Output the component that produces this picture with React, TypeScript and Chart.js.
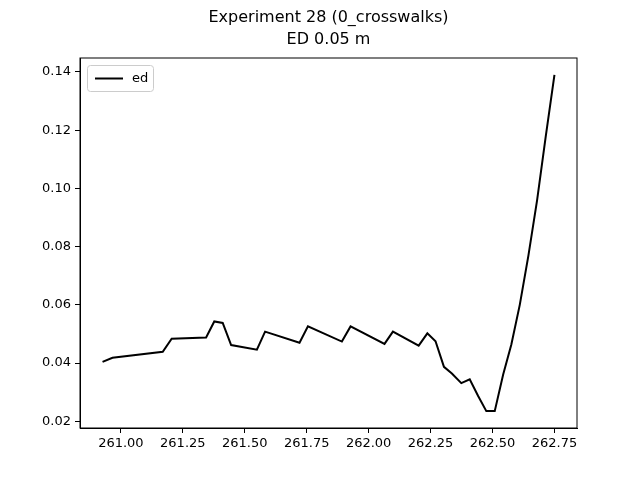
import React, { useEffect, useRef } from 'react'
import { Chart, registerables } from 'chart.js'

Chart.register(...registerables)

const xs = [
	260.926, 260.966, 261.169, 261.205, 261.344, 261.377, 261.411, 261.445, 261.549, 261.582,
	261.721, 261.755, 261.892, 261.927, 262.064, 262.098, 262.202, 262.237, 262.27, 262.304,
	262.336, 262.374, 262.408, 262.442, 262.475, 262.509, 262.543, 262.576, 262.61, 262.645,
	262.68, 262.715, 262.75,
]
const ed = [
	0.0404, 0.0418, 0.0439, 0.0484, 0.0488, 0.0543, 0.0538, 0.0462, 0.0446, 0.0508,
	0.047, 0.0526, 0.0474, 0.0526, 0.0466, 0.0508, 0.046, 0.0502, 0.0475, 0.0387,
	0.0364, 0.0331, 0.0344, 0.0287, 0.0235, 0.0235, 0.0361, 0.0464, 0.06, 0.077,
	0.096, 0.118, 0.139,
]
const xTicks = [261.0, 261.25, 261.5, 261.75, 262.0, 262.25, 262.5, 262.75]
const yTicks = [0.02, 0.04, 0.06, 0.08, 0.1, 0.12, 0.14]

const FONT = 'DejaVu Sans'

const frame = {
	id: 'frame',
	afterDraw(chart: Chart) {
		const { ctx, chartArea: a } = chart
		ctx.save()
		ctx.strokeStyle = '#000'
		ctx.lineWidth = 1
		ctx.strokeRect(a.left, a.top, a.right - a.left, a.bottom - a.top)
		ctx.fillStyle = '#000'
		ctx.font = `16px "${FONT}"`
		ctx.textAlign = 'center'
		ctx.textBaseline = 'middle'
		const cx = (a.left + a.right) / 2
		ctx.fillText('Experiment 28 (0_crosswalks)', cx, 18)
		ctx.fillText('ED 0.05 m', cx, 40)
		// legend
		const lx = a.left + 7, ly = a.top + 7
		ctx.fillStyle = '#fff'
		ctx.strokeStyle = '#ccc'
		ctx.beginPath()
		ctx.roundRect(lx + 0.5, ly + 0.5, 66, 26, 3)
		ctx.fill()
		ctx.stroke()
		ctx.strokeStyle = '#000'
		ctx.lineWidth = 2
		ctx.beginPath()
		ctx.moveTo(lx + 8, ly + 13.5)
		ctx.lineTo(lx + 36, ly + 13.5)
		ctx.stroke()
		ctx.fillStyle = '#000'
		ctx.font = `13px "${FONT}"`
		ctx.textAlign = 'left'
		ctx.fillText('ed', lx + 45, ly + 14)
		ctx.restore()
	},
}

export default function App() {
	const ref = useRef<HTMLCanvasElement>(null)

	useEffect(() => {
		document.body.style.margin = '0'
		if (!ref.current) return
		const chart = new Chart(ref.current, {
			type: 'line',
			data: {
				datasets: [
					{
						label: 'ed',
						data: xs.map((x, i) => ({ x, y: ed[i] })),
						borderColor: '#000',
						borderWidth: 2,
						pointRadius: 0,
						tension: 0,
					},
				],
			},
			options: {
				animation: false,
				responsive: false,
				layout: { padding: { left: 0, right: 63, top: 58, bottom: 0 } },
				plugins: { legend: { display: false }, title: { display: false }, tooltip: { enabled: false } },
				scales: {
					x: {
						type: 'linear',
						min: 260.835,
						max: 262.841,
						afterBuildTicks: (s: any) => { s.ticks = xTicks.map(v => ({ value: v })) },
						afterFit: (s: any) => { s.height = 52 },
						grid: { drawOnChartArea: false, drawTicks: true, tickLength: 5, color: '#000' },
						border: { display: true, color: '#000' },
						ticks: {
							color: '#000',
							font: { family: FONT, size: 13 },
							padding: 3,
							maxRotation: 0,
							callback: (v: any) => Number(v).toFixed(2),
						},
					},
					y: {
						min: 0.0177,
						max: 0.1448,
						afterBuildTicks: (s: any) => { s.ticks = yTicks.map(v => ({ value: v })) },
						afterFit: (s: any) => { s.width = 80 },
						grid: { drawOnChartArea: false, drawTicks: true, tickLength: 5, color: '#000' },
						border: { display: true, color: '#000' },
						ticks: {
							color: '#000',
							font: { family: FONT, size: 13 },
							padding: 4,
							callback: (v: any) => Number(v).toFixed(2),
						},
					},
				},
			},
			plugins: [frame],
		})
		return () => chart.destroy()
	}, [])

	return <canvas ref={ref} width={640} height={480} />
}
